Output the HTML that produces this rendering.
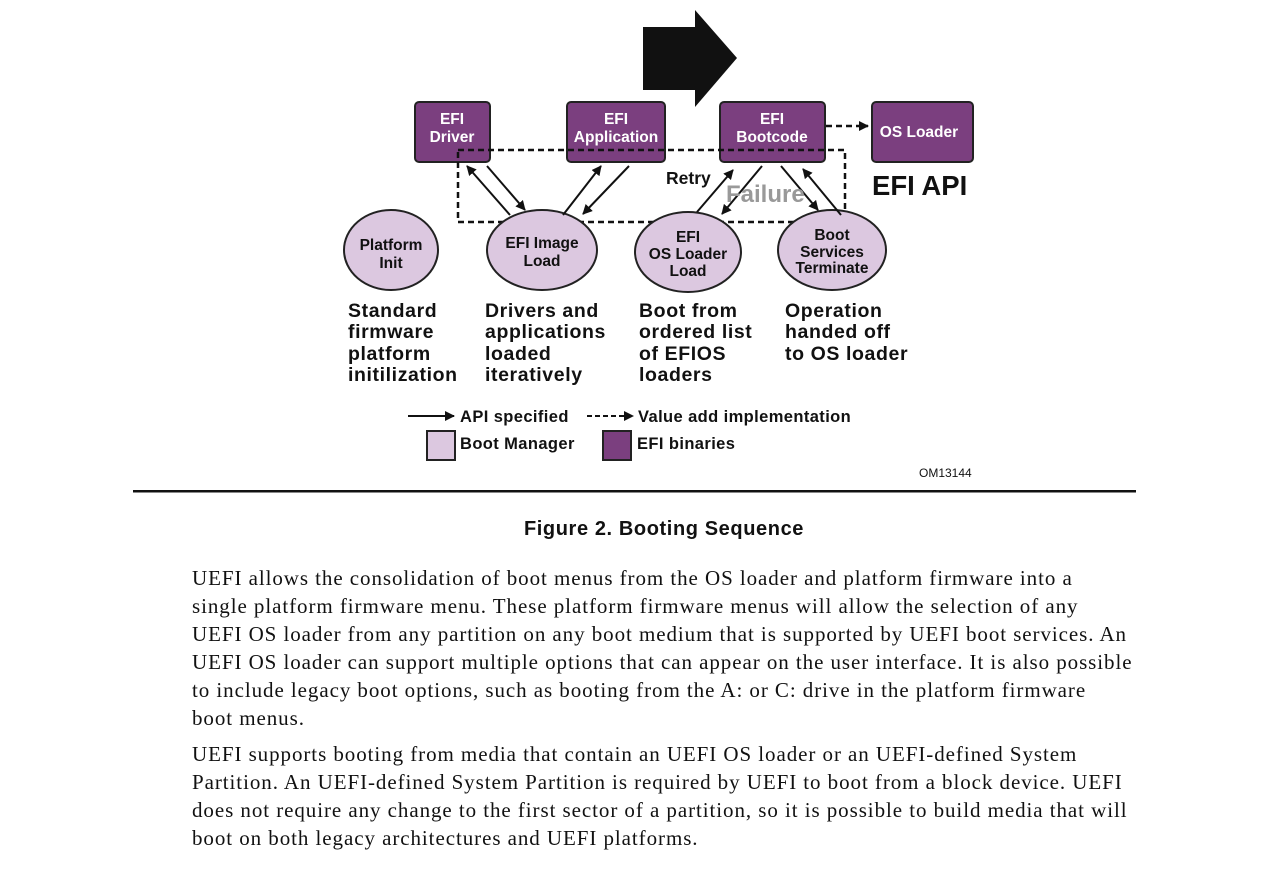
<!DOCTYPE html>
<html><head><meta charset="utf-8"><style>
body{margin:0;width:1280px;height:876px;background:#fff;position:relative;overflow:hidden;font-family:"Liberation Sans",sans-serif}
.t{position:absolute;left:192px;font-family:"Liberation Serif",serif;font-size:21px;letter-spacing:0.93px;line-height:28px;color:#111;width:1000px;white-space:nowrap}
</style></head><body>
<svg width="1280" height="500" style="position:absolute;left:0;top:0" font-family="Liberation Sans, sans-serif" font-weight="bold">
<defs><marker id="a" markerWidth="10" markerHeight="10" refX="9" refY="5" orient="auto" markerUnits="userSpaceOnUse"><path d="M0,0 L10,5 L0,10 z" fill="#111"/></marker></defs>
<polygon points="643,27 695,27 695,10 737,58 695,107 695,90 643,90" fill="#111"/>
<g fill="#7b3f7f" stroke="#222" stroke-width="2">
<rect x="415" y="102" width="75" height="60" rx="4"/>
<rect x="567" y="102" width="98" height="60" rx="4"/>
<rect x="720" y="102" width="105" height="60" rx="4"/>
<rect x="872" y="102" width="101" height="60" rx="4"/>
</g>
<g fill="#fff" font-size="15.5" text-anchor="middle">
<text x="452" y="124">EFI</text><text x="452" y="142">Driver</text>
<text x="616" y="124">EFI</text><text x="616" y="142">Application</text>
<text x="772" y="124">EFI</text><text x="772" y="142">Bootcode</text>
<text x="919" y="137">OS Loader</text>
</g>
<line x1="826" y1="126" x2="868" y2="126" stroke="#111" stroke-width="2.5" stroke-dasharray="6,4" marker-end="url(#a)"/>
<rect x="458" y="150" width="387" height="72" fill="none" stroke="#111" stroke-width="2.5" stroke-dasharray="6,4"/>
<g fill="#dcc8e0" stroke="#222" stroke-width="2">
<ellipse cx="391" cy="250" rx="47" ry="40"/>
<ellipse cx="542" cy="250" rx="55" ry="40"/>
<ellipse cx="688" cy="252" rx="53" ry="40"/>
<ellipse cx="832" cy="250" rx="54" ry="40"/>
</g>
<g fill="#111" font-size="15.5" text-anchor="middle">
<text x="391" y="250">Platform</text><text x="391" y="268">Init</text>
<text x="542" y="248">EFI Image</text><text x="542" y="266">Load</text>
<text x="688" y="242">EFI</text><text x="688" y="259">OS Loader</text><text x="688" y="276">Load</text>
<text x="832" y="240">Boot</text><text x="832" y="257">Services</text><text x="832" y="273">Terminate</text>
</g>
<g stroke="#111" stroke-width="2" marker-end="url(#a)">
<line x1="510" y1="215" x2="467" y2="166"/>
<line x1="487" y1="166" x2="525" y2="210"/>
<line x1="563" y1="215" x2="601" y2="166"/>
<line x1="629" y1="166" x2="583" y2="214"/>
<line x1="697" y1="212" x2="733" y2="170"/>
<line x1="762" y1="166" x2="722" y2="214"/>
<line x1="781" y1="166" x2="818" y2="210"/>
<line x1="841" y1="215" x2="803" y2="169"/>
</g>
<text x="666" y="184" font-size="17.5" fill="#111">Retry</text>
<text x="726" y="202" font-size="24" fill="#999">Failure</text>
<text x="872" y="195" font-size="27.5" fill="#111">EFI API</text>
<g font-size="19.5" fill="#111" letter-spacing="0.6">
<text x="348" y="317">Standard</text><text x="348" y="338">firmware</text><text x="348" y="360">platform</text><text x="348" y="381">initilization</text>
<text x="485" y="317">Drivers and</text><text x="485" y="338">applications</text><text x="485" y="360">loaded</text><text x="485" y="381">iteratively</text>
<text x="639" y="317">Boot from</text><text x="639" y="338">ordered list</text><text x="639" y="360">of EFIOS</text><text x="639" y="381">loaders</text>
<text x="785" y="317">Operation</text><text x="785" y="338">handed off</text><text x="785" y="360">to OS loader</text>
</g>
<line x1="408" y1="416" x2="454" y2="416" stroke="#111" stroke-width="2" marker-end="url(#a)"/>
<line x1="587" y1="416" x2="633" y2="416" stroke="#111" stroke-width="2" stroke-dasharray="5,3" marker-end="url(#a)"/>
<g font-size="16.5" fill="#111" letter-spacing="0.4">
<text x="460" y="422">API specified</text>
<text x="638" y="422">Value add implementation</text>
<text x="460" y="449">Boot Manager</text>
<text x="637" y="449">EFI binaries</text>
</g>
<rect x="427" y="431" width="28" height="29" fill="#dcc8e0" stroke="#222" stroke-width="2"/>
<rect x="603" y="431" width="28" height="29" fill="#7b3f7f" stroke="#222" stroke-width="2"/>
<text x="919" y="477" font-size="12" font-weight="normal" fill="#111">OM13144</text>
<rect x="133" y="490" width="1003" height="2.5" fill="#111"/>
</svg>
<div style="position:absolute;left:0;width:1328px;top:518px;text-align:center;font-weight:bold;font-size:20px;letter-spacing:0.6px;color:#111">Figure 2. Booting Sequence</div>
<div class="t" style="top:564px">UEFI allows the consolidation of boot menus from the OS loader and platform firmware into a<br>single platform firmware menu. These platform firmware menus will allow the selection of any<br>UEFI OS loader from any partition on any boot medium that is supported by UEFI boot services. An<br>UEFI OS loader can support multiple options that can appear on the user interface. It is also possible<br>to include legacy boot options, such as booting from the A: or C: drive in the platform firmware<br>boot menus.</div>
<div class="t" style="top:740px">UEFI supports booting from media that contain an UEFI OS loader or an UEFI-defined System<br>Partition. An UEFI-defined System Partition is required by UEFI to boot from a block device. UEFI<br>does not require any change to the first sector of a partition, so it is possible to build media that will<br>boot on both legacy architectures and UEFI platforms.</div>
</body></html>
